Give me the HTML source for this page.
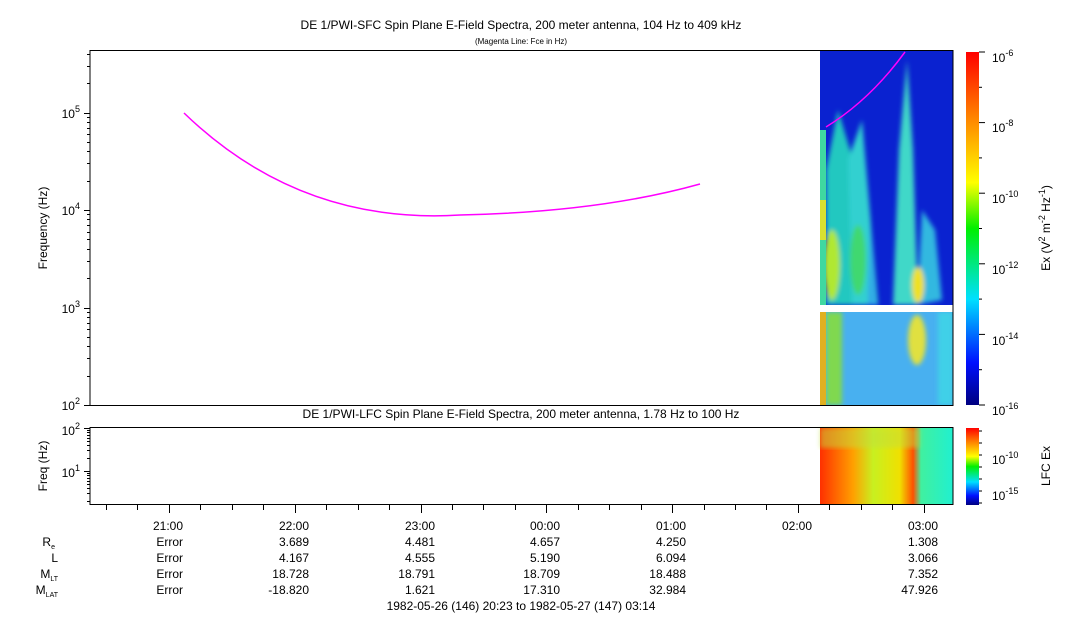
<!DOCTYPE html>
<html><head><meta charset="utf-8"><style>
body{margin:0;background:#fff;}
svg{display:block;font-family:"Liberation Sans",sans-serif;}
</style></head><body>
<svg id="s" width="1083" height="620" viewBox="0 0 1083 620" xmlns="http://www.w3.org/2000/svg">
<defs>
<linearGradient id="cb" x1="0" y1="1" x2="0" y2="0">
<stop offset="0" stop-color="#00007f"/><stop offset="0.12" stop-color="#0010ff"/>
<stop offset="0.3" stop-color="#00e0ff"/><stop offset="0.5" stop-color="#00f000"/>
<stop offset="0.63" stop-color="#ffff00"/><stop offset="0.82" stop-color="#ff8000"/>
<stop offset="1" stop-color="#ff0000"/></linearGradient>
<linearGradient id="lf" x1="0" y1="0" x2="1" y2="0">
<stop offset="0" stop-color="#ff3000"/><stop offset="0.25" stop-color="#ffa000"/>
<stop offset="0.4" stop-color="#c8f020"/><stop offset="0.6" stop-color="#f0e000"/>
<stop offset="0.7" stop-color="#ff5000"/><stop offset="0.76" stop-color="#40f0a0"/>
<stop offset="1" stop-color="#20f0d0"/></linearGradient>
<filter id="bl"><feGaussianBlur stdDeviation="2.5"/></filter>
<clipPath id="c1"><rect x="820" y="51" width="133" height="254"/></clipPath>
<clipPath id="c2"><rect x="820" y="312" width="133" height="93"/></clipPath>
</defs>
<text x="521" y="29" font-size="12" text-anchor="middle">DE 1/PWI-SFC  Spin Plane E-Field Spectra, 200 meter antenna, 104 Hz to 409 kHz</text>
<text x="521" y="44" font-size="8" text-anchor="middle">(Magenta Line: Fce in Hz)</text>
<g clip-path="url(#c1)">
<rect x="820" y="51" width="133" height="254" fill="#0a22d0"/>
<g filter="url(#bl)">
<polygon points="826,170 838,110 850,150 868,305 826,305" fill="#20c8c0"/>
<polygon points="848,160 862,120 878,305 852,305" fill="#30d0d0"/>
<polygon points="868,305 870,220 876,305" fill="#30a8e8"/>
<polygon points="893,305 899,150 907,60 913,150 918,305" fill="#40d8c8"/>
<polygon points="917,305 922,210 935,230 942,300" fill="#30b8e0"/>
<ellipse cx="832" cy="265" rx="8" ry="35" fill="#b0e830"/>
<ellipse cx="918" cy="285" rx="6" ry="18" fill="#f0e020"/>
<ellipse cx="858" cy="260" rx="8" ry="35" fill="#40d870"/>
</g>
<rect x="820" y="130" width="6" height="175" fill="#40d8a0"/>
<rect x="820" y="200" width="6" height="40" fill="#d8e030"/>
</g>
<g clip-path="url(#c2)">
<rect x="820" y="312" width="133" height="93" fill="#48b0f0"/>
<g filter="url(#bl)">
<rect x="826" y="312" width="16" height="93" fill="#80d850"/>
<ellipse cx="917" cy="340" rx="9" ry="25" fill="#e0e040"/>
<rect x="938" y="312" width="15" height="93" fill="#40d0e8"/>
</g>
<rect x="820" y="312" width="6" height="93" fill="#e0b020"/>
</g>
<path d="M184,113 Q300,225 460,215 Q600,212 700,184" fill="none" stroke="#ff00ff" stroke-width="1.5"/>
<path d="M826,127 Q870,100 905,52" fill="none" stroke="#ff00ff" stroke-width="1.5"/>
<rect x="90" y="50.5" width="863" height="355" fill="none" stroke="#000"/>
<g id="ticks" stroke="#000"></g>
<g font-size="12" text-anchor="end">
<text x="80" y="410">10<tspan dy="-6" font-size="9">2</tspan></text>
<text x="80" y="313">10<tspan dy="-6" font-size="9">3</tspan></text>
<text x="80" y="215">10<tspan dy="-6" font-size="9">4</tspan></text>
<text x="80" y="118">10<tspan dy="-6" font-size="9">5</tspan></text>
</g>
<text transform="translate(47,228) rotate(-90)" font-size="12" text-anchor="middle">Frequency (Hz)</text>
<rect x="966" y="52" width="13" height="353" fill="url(#cb)"/>
<g font-size="12">
<text x="992" y="62">10<tspan dy="-6" font-size="9">-6</tspan></text>
<text x="992" y="132">10<tspan dy="-6" font-size="9">-8</tspan></text>
<text x="992" y="203">10<tspan dy="-6" font-size="9">-10</tspan></text>
<text x="992" y="274">10<tspan dy="-6" font-size="9">-12</tspan></text>
<text x="992" y="345">10<tspan dy="-6" font-size="9">-14</tspan></text>
<text x="992" y="415">10<tspan dy="-6" font-size="9">-16</tspan></text>
</g>
<text transform="translate(1050,228) rotate(-90)" font-size="12" text-anchor="middle">Ex (V<tspan dy="-5" font-size="9">2</tspan><tspan dy="5"> m</tspan><tspan dy="-5" font-size="9">-2</tspan><tspan dy="5"> Hz</tspan><tspan dy="-5" font-size="9">-1</tspan><tspan dy="5">)</tspan></text>
<text x="521" y="418" font-size="12" text-anchor="middle">DE 1/PWI-LFC  Spin Plane E-Field Spectra, 200 meter antenna, 1.78 Hz to 100 Hz</text>
<rect x="820" y="428" width="133" height="77" fill="url(#lf)"/>
<rect x="820" y="428" width="100" height="20" fill="#c0e040" opacity="0.5" filter="url(#bl)"/>
<rect x="90" y="427.5" width="863" height="77" fill="none" stroke="#000"/>
<g font-size="12" text-anchor="end">
<text x="80" y="435">10<tspan dy="-6" font-size="9">2</tspan></text>
<text x="80" y="477">10<tspan dy="-6" font-size="9">1</tspan></text>
</g>
<text transform="translate(47,466) rotate(-90)" font-size="12" text-anchor="middle">Freq (Hz)</text>
<rect x="966" y="428" width="13" height="77" fill="url(#cb)"/>
<g font-size="12">
<text x="992" y="464">10<tspan dy="-6" font-size="9">-10</tspan></text>
<text x="992" y="500">10<tspan dy="-6" font-size="9">-15</tspan></text>
</g>
<text transform="translate(1050,466) rotate(-90)" font-size="12" text-anchor="middle">LFC Ex</text>
<g font-size="12" text-anchor="end">
<text x="183" y="530">21:00</text><text x="183" y="546">Error</text><text x="183" y="562">Error</text><text x="183" y="578">Error</text><text x="183" y="594">Error</text>
<text x="309" y="530">22:00</text><text x="309" y="546">3.689</text><text x="309" y="562">4.167</text><text x="309" y="578">18.728</text><text x="309" y="594">-18.820</text>
<text x="435" y="530">23:00</text><text x="435" y="546">4.481</text><text x="435" y="562">4.555</text><text x="435" y="578">18.791</text><text x="435" y="594">1.621</text>
<text x="560" y="530">00:00</text><text x="560" y="546">4.657</text><text x="560" y="562">5.190</text><text x="560" y="578">18.709</text><text x="560" y="594">17.310</text>
<text x="686" y="530">01:00</text><text x="686" y="546">4.250</text><text x="686" y="562">6.094</text><text x="686" y="578">18.488</text><text x="686" y="594">32.984</text>
<text x="812" y="530">02:00</text>
<text x="938" y="530">03:00</text><text x="938" y="546">1.308</text><text x="938" y="562">3.066</text><text x="938" y="578">7.352</text><text x="938" y="594">47.926</text>
<text x="55" y="546">R<tspan font-size="7" dy="3">e</tspan></text>
<text x="58" y="562">L</text>
<text x="58" y="578">M<tspan font-size="7" dy="3">LT</tspan></text>
<text x="58" y="594">M<tspan font-size="7" dy="3">LAT</tspan></text>
</g>
<text x="521" y="610" font-size="12" text-anchor="middle">1982-05-26 (146) 20:23 to 1982-05-27 (147) 03:14</text>
</svg>
<script>
var g=document.getElementById('ticks'),h='';
function L(a,b,c,d){h+='<line x1="'+a+'" y1="'+b+'" x2="'+c+'" y2="'+d+'"/>';}
for(var e=2;e<=5;e++){for(var v=1;v<=9;v++){var y=Math.round(405-97.5*((e-2)+Math.log10(v)))+0.5;if(y<51)continue;L(90,y,v==1?84:87,y);}}
for(var e=0;e<=2;e++){for(var v=1;v<=9;v++){var y=Math.round(471-43*((e-1)+Math.log10(v)))+0.5;if(y<428||y>504)continue;L(90,y,v==1?84:87,y);}}
for(var i=0;i<=10;i++){var y=52+i*35.3;L(979,y,i%2?982:985,y);}
for(var i=0;i<=6;i++){var y=431+i*12;L(979,y,982,y);}
for(var i=0;i<27;i++){var x=Math.round(106+i*31.45)+0.5;var maj=(i-2)%4==0;L(x,505,x,maj?513:510);}
g.innerHTML=h;
</script>
</body></html>
